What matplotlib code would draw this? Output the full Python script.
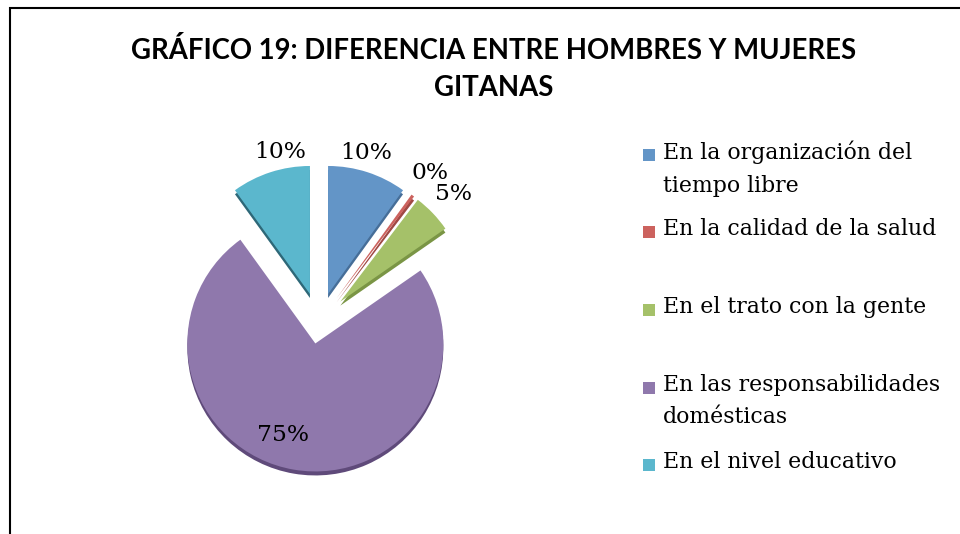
import matplotlib
matplotlib.use("Agg")
import matplotlib.pyplot as plt
from matplotlib.patches import Rectangle
import numpy as np

# Chart data
categories = [
    "En la organización del\ntiempo libre",
    "En la calidad de la salud",
    "En el trato con la gente",
    "En las responsabilidades\ndomésticas",
    "En el nivel educativo",
]
values = [10, 0.4, 5, 75, 10]
title = "GRÁFICO 19: DIFERENCIA ENTRE HOMBRES Y MUJERES\nGITANAS"

# Styles
colors = ["#6395C7", "#CC625E", "#A5C169", "#8F78AC", "#5BB7CD"]
side_colors = ["#466E98", "#A04844", "#7A9545", "#5F4A7A", "#2E6878"]
explode = [0.23, 0.23, 0.23, 0.17, 0.23]   # fraction of radius
label_dist = [1.14, 1.22, 1.22, 0.76, 1.13]
label_turn = [3, 0, 0, -10, -6]

W, H = 960, 534
cx, cy, r = 319, H - 322, 128
explode_px = [e * r for e in explode]

fig = plt.figure(figsize=(W / 100, H / 100), dpi=100)
ax = fig.add_axes([0, 0, 1, 1])

# darker copy underneath gives the 3D rim
ax.pie(values, colors=side_colors, explode=explode_px, startangle=90,
       counterclock=False, center=(cx, cy - 4), radius=r,
       wedgeprops=dict(linewidth=0))
wedges, _ = ax.pie(values, colors=colors, explode=explode_px, startangle=90,
                   counterclock=False, center=(cx, cy), radius=r,
                   wedgeprops=dict(linewidth=0))

total = sum(values)
for w, v, e, d, t in zip(wedges, values, explode_px, label_dist, label_turn):
    mid = np.deg2rad((w.theta1 + w.theta2) / 2)
    ax0 = cx + e * np.cos(mid)
    ay0 = cy + e * np.sin(mid)
    ang = mid + np.deg2rad(t)
    ax.text(ax0 + d * r * np.cos(ang), ay0 + d * r * np.sin(ang),
            f"{v / total * 100:.0f}%", ha="center", va="center",
            fontsize=16.8, family="DejaVu Serif", color="black")

ax.set_xlim(0, W)
ax.set_ylim(0, H)
ax.set_aspect("auto")
ax.axis("off")

# legend drawn by hand to follow the spread-out spacing
legend_y = [155, 232, 310, 388, 465]
for c, lab, y in zip(colors, categories, legend_y):
    ax.add_patch(Rectangle((643, H - y - 6), 12, 12, color=c, linewidth=0))
    ax.text(663, H - y + 14, lab, ha="left", va="top", fontsize=15.8,
            family="DejaVu Serif", linespacing=1.6, color="black")

fig.text(494 / W, 1 - 69 / H, title, ha="center", va="center",
         fontsize=19.8, fontweight="bold",
         family=["Lato", "DejaVu Sans"], linespacing=1.55)

# chart frame running off the right and bottom edges
fig.patches.append(Rectangle((10 / W, -0.1), 1.2, 1 - 8 / H + 0.1,
                             transform=fig.transFigure, fill=False,
                             edgecolor="black", linewidth=1.5))

fig.savefig("out.png", dpi=100)
